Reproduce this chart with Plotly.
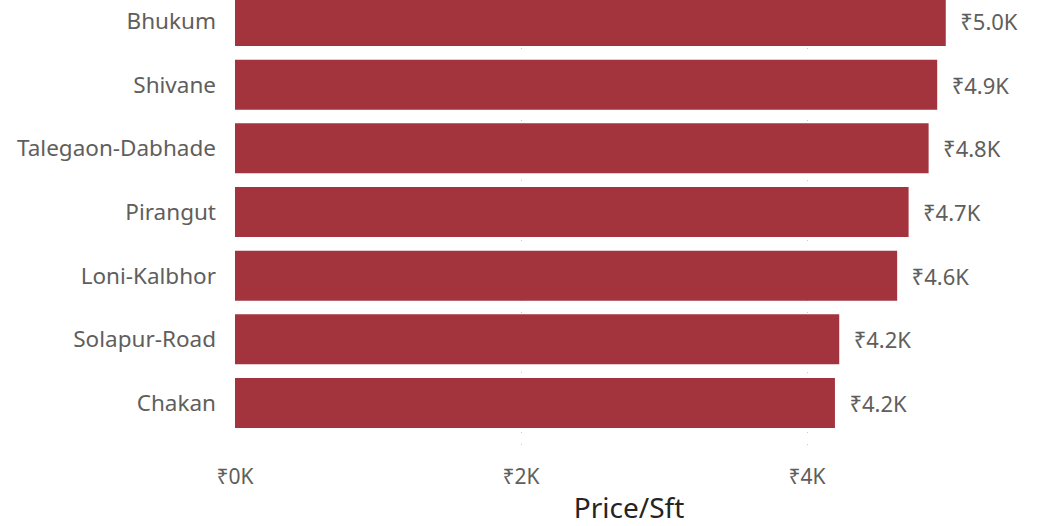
import plotly.graph_objects as go

categories = ["Bhukum", "Shivane", "Talegaon-Dabhade", "Pirangut", "Loni-Kalbhor", "Solapur-Road", "Chakan"]
price_per_sft = [4970, 4910, 4850, 4710, 4630, 4225, 4195]
tick_values = [0, 2000, 4000]
tick_labels = ["₹0K", "₹2K", "₹4K"]
value_labels = ["₹%.1fK" % (v / 1000) for v in price_per_sft]

FONT = "Noto Sans"

fig = go.Figure(go.Bar(
    x=price_per_sft,
    y=categories,
    orientation="h",
    marker=dict(color="#A3333D", line=dict(width=0)),
    width=0.785,
    text=["  " + t for t in value_labels],
    textposition="outside",
    cliponaxis=False,
    textfont=dict(family=FONT, size=22, color="#605E5C"),
    hoverinfo="skip",
))

fig.update_layout(
    width=1053, height=526,
    margin=dict(l=235, r=30, t=0, b=74),
    paper_bgcolor="white", plot_bgcolor="white",
    showlegend=False,
    font=dict(family=FONT, color="#605E5C"),
)
fig.update_xaxes(
    automargin=False,
    range=[0, 5510],
    tickvals=tick_values, ticktext=tick_labels,
    tickfont=dict(family=FONT, size=21, color="#605E5C"),
    showgrid=True, gridcolor="#C8C6C4", gridwidth=1, griddash="1px,11px",
    zeroline=False, showline=False,
    ticklabelstandoff=10,
    title=dict(text="Price/Sft", font=dict(family=FONT, size=28, color="#252423"), standoff=13),
)
fig.update_yaxes(
    automargin=False,
    type="category",
    categoryorder="array", categoryarray=categories,
    range=[6.77, -0.33],
    tickfont=dict(family=FONT, size=22.5, color="#605E5C"),
    showgrid=False, zeroline=False, showline=False,
    ticklabelstandoff=18,
)

fig.write_html(
    "out.html",
    config={"displayModeBar": False},
    post_script="document.body.style.margin='0';document.body.style.overflow='hidden';",
)
